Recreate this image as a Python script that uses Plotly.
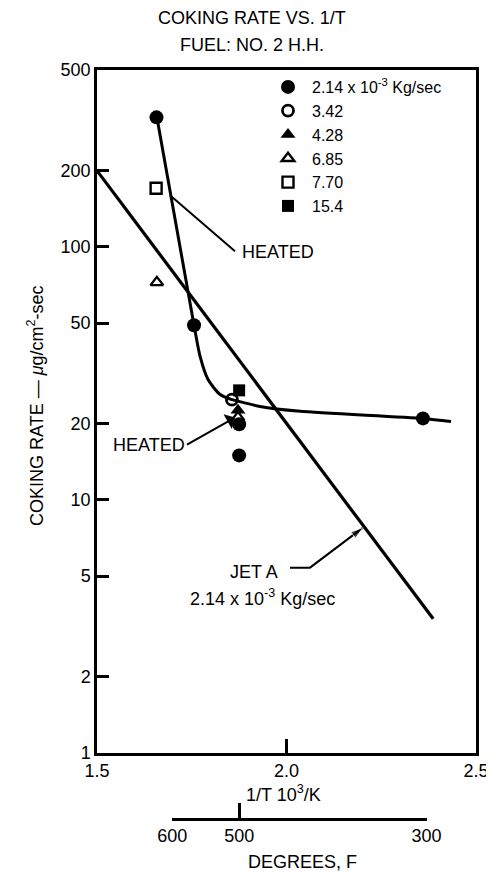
import math
import plotly.graph_objects as go

# ---------------- data ----------------
series_names = ["2.14 x 10<sup>-3</sup> Kg/sec", "3.42", "4.28", "6.85", "7.70", "15.4"]

x_214 = [1.657, 1.756, 1.875, 1.875, 2.360]
y_214 = [325, 49.0, 19.9, 15.0, 21.0]
x_342 = [1.856]
y_342 = [24.9]
x_428 = [1.872]
y_428 = [22.6]
x_685 = [1.658, 1.872]
y_685 = [72.4, 21.2]
x_770 = [1.656]
y_770 = [170.6]
x_154 = [1.875]
y_154 = [27.1]

# hand-drawn fit curve through the 2.14e-3 data
curve_x = [1.658, 1.756, 1.772, 1.793, 1.825, 1.856, 1.885, 1.930, 2.036, 2.360, 2.434]
curve_y = [325, 49.0, 36.9, 29.9, 26.1, 24.9, 24.3, 23.4, 22.4, 21.0, 20.4]

# Jet A line
jet_x = [1.5, 2.387]
jet_y = [200, 3.39]

# callout leaders (data coordinates)
heated_up_x = [1.6926, 1.8641]
heated_up_y = [160.0, 96.1]
jet_lead_x = [2.0092, 2.0620, 2.2018]
jet_lead_y = [5.40, 5.40, 7.77]

# axis ticks
y_ticks = [1, 2, 5, 10, 20, 50, 100, 200, 500]
x_ticks = [1.5, 2.0, 2.5]
x_tick_text = ["1.5", "2.0", "2.5"]
deg_f_ticks = [600, 500, 300]


def f_to_invT(f):
    return 1000.0 / ((f - 32) * 5.0 / 9.0 + 273.15)


deg_pos = [f_to_invT(f) for f in deg_f_ticks]

FONT = "Liberation Sans, Arial, sans-serif"
FS = 18

fig = go.Figure()

fig.add_trace(go.Scatter(x=curve_x, y=curve_y, mode="lines",
                         line=dict(color="black", width=3, shape="spline", smoothing=0.7),
                         showlegend=False, hoverinfo="skip"))
fig.add_trace(go.Scatter(x=jet_x, y=jet_y, mode="lines", line=dict(color="black", width=3.2),
                         showlegend=False, hoverinfo="skip"))
fig.add_trace(go.Scatter(x=heated_up_x, y=heated_up_y, mode="lines", line=dict(color="black", width=2),
                         showlegend=False, hoverinfo="skip"))
fig.add_trace(go.Scatter(x=jet_lead_x, y=jet_lead_y, mode="lines+markers", line=dict(color="black", width=2),
                         marker=dict(symbol=["circle", "circle", "arrow"], size=[0, 0, 13], color="black",
                                     angleref="previous", standoff=0),
                         showlegend=False, hoverinfo="skip"))

styles = [
    (x_214, y_214, dict(symbol="circle", size=14, color="black")),
    (x_342, y_342, dict(symbol="circle-open", size=11, color="black", line=dict(width=2.8, color="black"))),
    (x_428, y_428, dict(symbol="triangle-up", size=13, color="black")),
    (x_685, y_685, dict(symbol="triangle-up-open", size=11, color="black", line=dict(width=2.4, color="black"))),
    (x_770, y_770, dict(symbol="square-open", size=11, color="black", line=dict(width=2.4, color="black"))),
    (x_154, y_154, dict(symbol="square", size=12, color="black")),
]
for name, (xs, ys, mk) in zip(series_names, styles):
    fig.add_trace(go.Scatter(x=xs, y=ys, mode="markers", name=name, marker=mk))

# invisible trace to carry the degrees-F axis
fig.add_trace(go.Scatter(x=deg_pos, y=[1, 1, 1], xaxis="x2", yaxis="y", mode="markers",
                         marker=dict(opacity=0), showlegend=False, hoverinfo="skip"))

# page body has an 8px margin: work in screenshot pixels and subtract it
OFF = 8
W, H = 494 - OFF, 874 - OFF
L = 97 - OFF
R = W - (476 - OFF)
T = 70 - OFF
B = 40
paper_h = H - T - B
paper_w = W - L - R
plot_bottom_px = 753


def py(p):
    return (H - B - (p - OFF)) / paper_h


def px(p):
    return (p - OFF - L) / paper_w


ydom0 = py(plot_bottom_px)


def tfont(size=FS):
    return dict(size=size, family=FONT, color="black")


def ptext(text, x, y, size=FS, angle=0):
    return dict(text=text, x=px(x), y=py(y), xref="paper", yref="paper", showarrow=False,
                xanchor="center", yanchor="middle", textangle=angle, font=tfont(size))


annotations = [
    ptext("COKING RATE VS. 1/T", 252, 18),
    ptext("FUEL: NO. 2 H.H.", 252, 45),
    ptext("COKING RATE — <i>μ</i>g/cm<sup>2</sup>-sec", 35, 406, 18, -90),
    ptext("1/T 10<sup>3</sup>/K", 283, 793),
    ptext("DEGREES, F", 302, 862),
    # labels
    dict(text="HEATED", x=1.878, y=1.979, xref="x", yref="y", xanchor="left", yanchor="middle",
         showarrow=False, font=tfont()),
    dict(text="HEATED", x=1.8641, y=1.3257, ax=1.7375, ay=1.2188, xref="x", yref="y", axref="x", ayref="y",
         xanchor="right", yanchor="middle", showarrow=True, arrowhead=1, arrowsize=1.4, arrowwidth=2,
         arrowcolor="black", font=tfont()),
    dict(text="JET A", x=1.9142, y=0.7163, xref="x", yref="y", xanchor="center", yanchor="middle",
         showarrow=False, font=tfont()),
    dict(text="2.14 x 10<sup>-3</sup> Kg/sec", x=1.9354, y=0.6134, xref="x", yref="y", xanchor="center",
         yanchor="middle", showarrow=False, font=tfont()),
]

fig.update_layout(
    width=W, height=H,
    margin=dict(l=L, r=R, t=T, b=B, autoexpand=False),
    paper_bgcolor="white", plot_bgcolor="rgba(0,0,0,0)",
    font=tfont(),
    xaxis=dict(type="linear", range=[1.5, 2.5], tickvals=x_ticks, ticktext=x_tick_text,
               ticks="inside", ticklen=14, tickwidth=2.5, tickcolor="black",
               showline=True, linewidth=2.5, linecolor="black", mirror=True, automargin=False,
               showgrid=False, zeroline=False, anchor="y", domain=[0, 1], tickfont=tfont()),
    yaxis=dict(type="log", range=[0, math.log10(500)], tickvals=y_ticks, ticktext=[str(v) for v in y_ticks],
               ticks="inside", ticklen=12, tickwidth=2.5, tickcolor="black",
               showline=True, linewidth=2.5, linecolor="black", mirror=True, automargin=False,
               showgrid=False, zeroline=False, domain=[ydom0, 1], anchor="x", tickfont=tfont()),
    xaxis2=dict(domain=[deg_pos[0] - 1.5, deg_pos[-1] - 1.5], range=[deg_pos[0], deg_pos[-1]],
                anchor="free", position=py(819), tickvals=deg_pos, ticktext=[str(v) for v in deg_f_ticks],
                ticks="inside", ticklen=15, tickwidth=2.5, tickcolor="black",
                showline=True, linewidth=2.5, linecolor="black", automargin=False,
                showgrid=False, zeroline=False, tickfont=tfont()),
    legend=dict(x=px(264), y=py(70), xanchor="left", yanchor="top", bgcolor="rgba(0,0,0,0)",
                font=tfont(16), itemwidth=38, tracegroupgap=0),
    annotations=annotations,
    showlegend=True,
)

fig.write_html("out.html")
